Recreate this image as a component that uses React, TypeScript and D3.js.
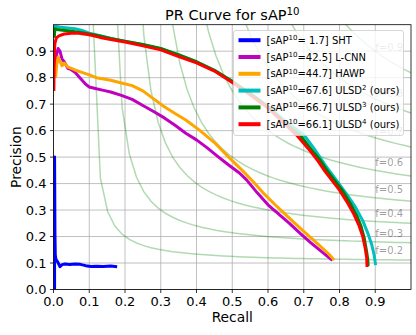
import React from 'react';
import * as d3 from 'd3';

const width = 416;
const height = 335;
const margin = { top: 24.7, right: 5, bottom: 45.5, left: 53.5 };

const ticks = [0, 0.1, 0.2, 0.3, 0.4, 0.5, 0.6, 0.7, 0.8, 0.9];
const fScores = [0.2, 0.3, 0.4, 0.5, 0.6, 0.7, 0.8, 0.9];

// SHT
const shtRecall = [0.003, 0.003, 0.004, 0.005, 0.007, 0.01, 0.014, 0.018, 0.024, 0.032, 0.045, 0.06, 0.075, 0.09, 0.105, 0.12, 0.14, 0.16, 0.178];
const shtPrecision = [0.0, 0.5, 0.22, 0.13, 0.112, 0.108, 0.098, 0.086, 0.094, 0.096, 0.094, 0.096, 0.095, 0.09, 0.087, 0.088, 0.087, 0.089, 0.086];

// L-CNN
const lcnnRecall = [0.006, 0.009, 0.013, 0.018, 0.024, 0.03, 0.04, 0.05, 0.06, 0.07, 0.08, 0.09, 0.1, 0.12, 0.14, 0.16, 0.19, 0.22, 0.25, 0.28, 0.31, 0.34, 0.37, 0.4, 0.43, 0.46, 0.49, 0.52, 0.54, 0.57, 0.6, 0.63, 0.66, 0.69, 0.72, 0.75, 0.78];
const lcnnPrecision = [0.84, 0.89, 0.91, 0.9, 0.87, 0.86, 0.835, 0.83, 0.82, 0.805, 0.79, 0.775, 0.765, 0.758, 0.752, 0.746, 0.733, 0.718, 0.695, 0.672, 0.648, 0.62, 0.59, 0.565, 0.535, 0.502, 0.47, 0.44, 0.414, 0.365, 0.32, 0.285, 0.25, 0.212, 0.176, 0.143, 0.11];

// HAWP
const hawpRecall = [0.006, 0.009, 0.013, 0.018, 0.024, 0.03, 0.04, 0.05, 0.06, 0.075, 0.09, 0.105, 0.12, 0.14, 0.16, 0.19, 0.22, 0.25, 0.28, 0.31, 0.34, 0.37, 0.41, 0.45, 0.49, 0.53, 0.56, 0.59, 0.62, 0.65, 0.68, 0.71, 0.74, 0.77, 0.785];
const hawpPrecision = [0.8, 0.85, 0.878, 0.862, 0.845, 0.855, 0.84, 0.835, 0.829, 0.822, 0.815, 0.808, 0.8, 0.795, 0.79, 0.78, 0.77, 0.75, 0.72, 0.69, 0.665, 0.64, 0.6, 0.555, 0.5, 0.447, 0.405, 0.36, 0.32, 0.282, 0.244, 0.207, 0.171, 0.134, 0.111];

// ULSD^2
const ulsd2Recall = [0.002, 0.005, 0.01, 0.02, 0.04, 0.06, 0.08, 0.1, 0.13, 0.16, 0.2, 0.25, 0.3, 0.35, 0.4, 0.45, 0.5, 0.55, 0.6, 0.65, 0.7, 0.73, 0.76, 0.79, 0.82, 0.845, 0.865, 0.88, 0.89, 0.897, 0.901];
const ulsd2Precision = [0.96, 0.995, 0.993, 0.99, 0.988, 0.985, 0.978, 0.968, 0.958, 0.948, 0.937, 0.924, 0.909, 0.887, 0.86, 0.828, 0.785, 0.74, 0.69, 0.635, 0.585, 0.53, 0.47, 0.415, 0.36, 0.31, 0.26, 0.21, 0.17, 0.13, 0.092];

// ULSD^3
const ulsd3Recall = [0.002, 0.004, 0.01, 0.02, 0.04, 0.07, 0.1, 0.13, 0.16, 0.2, 0.25, 0.3, 0.35, 0.4, 0.45, 0.5, 0.55, 0.6, 0.65, 0.69, 0.72, 0.745, 0.77, 0.79, 0.81, 0.83, 0.848, 0.86, 0.869, 0.875, 0.879, 0.88];
const ulsd3Precision = [0.95, 0.985, 0.982, 0.98, 0.977, 0.972, 0.965, 0.957, 0.948, 0.938, 0.925, 0.91, 0.886, 0.86, 0.828, 0.786, 0.74, 0.69, 0.625, 0.583, 0.53, 0.49, 0.44, 0.405, 0.37, 0.325, 0.28, 0.24, 0.195, 0.15, 0.115, 0.088];

// ULSD^4
const ulsd4Recall = [0.001, 0.002, 0.004, 0.008, 0.015, 0.03, 0.05, 0.07, 0.1, 0.13, 0.16, 0.2, 0.25, 0.3, 0.35, 0.4, 0.45, 0.5, 0.55, 0.6, 0.65, 0.68, 0.72, 0.74, 0.76, 0.78, 0.8, 0.82, 0.84, 0.855, 0.865, 0.872, 0.876, 0.877];
const ulsd4Precision = [0.75, 0.88, 0.93, 0.95, 0.958, 0.965, 0.968, 0.968, 0.962, 0.952, 0.944, 0.935, 0.92, 0.905, 0.88, 0.856, 0.825, 0.782, 0.735, 0.685, 0.622, 0.583, 0.52, 0.485, 0.445, 0.41, 0.375, 0.333, 0.285, 0.24, 0.2, 0.155, 0.12, 0.085];

const sapScores = [' 1.7', '42.5', '44.7', '67.6', '66.7', '66.1'];
const methodNames = ['SHT', 'L-CNN', 'HAWP', 'ULSD', 'ULSD', 'ULSD'];
const methodSups = ['', '', '', '2', '3', '4'];
const colors = ['#0000ff', '#bf00bf', '#ffa500', '#00bfbf', '#008000', '#ff0000'];

const series = [
  { r: shtRecall, p: shtPrecision },
  { r: lcnnRecall, p: lcnnPrecision },
  { r: hawpRecall, p: hawpPrecision },
  { r: ulsd2Recall, p: ulsd2Precision },
  { r: ulsd3Recall, p: ulsd3Precision },
  { r: ulsd4Recall, p: ulsd4Precision },
];

const font = 'DejaVu Sans, sans-serif';

const App = () => {
  const x = d3.scaleLinear().domain([0, 1]).range([margin.left, width - margin.right]);
  const y = d3.scaleLinear().domain([0, 1]).range([height - margin.bottom, margin.top]);

  const line = d3.line<[number, number]>()
    .x((d) => x(d[0]))
    .y((d) => y(d[1]));

  // iso-F reference curves
  const xs = d3.range(50).map((i) => 0.01 + (i * 0.99) / 49);
  const isoCurves = fScores.map((f) => {
    const pts = xs.map((v) => [v, (f * v) / (2 * v - f)] as [number, number]).filter((d) => d[1] >= 0);
    return { f, pts, labelY: pts.length ? (f * xs[45]) / (2 * xs[45] - f) + 0.02 : 0 };
  });

  const legendX = 233.5;
  const legendY = 30.5;
  const rowH = 16.8;

  return (
    <svg width={width} height={height} style={{ position: 'absolute', left: 0, top: 0 }} fontFamily={font}>
      <defs>
        <clipPath id="plot">
          <rect x={x(0)} y={y(1)} width={x(1) - x(0)} height={y(0) - y(1)} />
        </clipPath>
      </defs>
      <rect width={width} height={height} fill="#fff" />

      {/* grid */}
      {ticks.map((t) => (
        <g key={'g' + t}>
          <line x1={x(t)} x2={x(t)} y1={y(0)} y2={y(1)} stroke="#b0b0b0" strokeWidth={0.8} />
          <line x1={x(0)} x2={x(1)} y1={y(t)} y2={y(t)} stroke="#b0b0b0" strokeWidth={0.8} />
        </g>
      ))}

      <g clipPath="url(#plot)">
        {isoCurves.map((c) => (
          <path key={'f' + c.f} d={line(c.pts) || ''} fill="none" stroke="green" strokeOpacity={0.3} strokeWidth={1.5} />
        ))}
        {isoCurves.map((c) => (
          <text key={'fl' + c.f} x={x(0.9)} y={y(c.labelY)} fontSize={10} fill="#000" fillOpacity={0.4}>
            {'f=' + c.f.toFixed(1)}
          </text>
        ))}
        {series.map((s, i) => (
          <path
            key={'s' + i}
            d={line(s.r.map((v, j) => [v, s.p[j]] as [number, number])) || ''}
            fill="none"
            stroke={colors[i]}
            strokeWidth={3}
            strokeLinejoin="round"
          />
        ))}
      </g>

      {/* spines */}
      <rect x={x(0)} y={y(1)} width={x(1) - x(0)} height={y(0) - y(1)} fill="none" stroke="#000" strokeWidth={0.8} />

      {/* ticks */}
      {ticks.map((t) => (
        <g key={'t' + t}>
          <line x1={x(t)} x2={x(t)} y1={y(0)} y2={y(0) + 3.5} stroke="#000" strokeWidth={0.8} />
          <text x={x(t)} y={y(0) + 16.5} fontSize={13} textAnchor="middle">{t.toFixed(1)}</text>
          <line x1={x(0) - 3.5} x2={x(0)} y1={y(t)} y2={y(t)} stroke="#000" strokeWidth={0.8} />
          <text x={x(0) - 7} y={y(t) + 4.7} fontSize={13} textAnchor="end">{t.toFixed(1)}</text>
        </g>
      ))}

      {/* labels */}
      <text x={(x(0) + x(1)) / 2} y={322} fontSize={13.8} textAnchor="middle">Recall</text>
      <text transform={`translate(21,${(y(0) + y(1)) / 2}) rotate(-90)`} fontSize={13.8} textAnchor="middle">Precision</text>
      <text x={(x(0) + x(1)) / 2} y={20} fontSize={14.5} textAnchor="middle">
        PR Curve for sAP<tspan fontSize={10.2} dy={-5.5}>10</tspan>
      </text>

      {/* legend */}
      <rect x={legendX} y={legendY} width={170} height={105} rx={2.5} fill="#fff" fillOpacity={0.8} stroke="#cccccc" strokeWidth={0.8} />
      {sapScores.map((s, i) => {
        const ly = legendY + 9.7 + i * rowH;
        return (
          <g key={'l' + i}>
            <line x1={legendX + 5} x2={legendX + 27} y1={ly} y2={ly} stroke={colors[i]} strokeWidth={4} />
            <text x={legendX + 33} y={ly + 3.6} fontSize={10} style={{ whiteSpace: 'pre' }}>
              [sAP<tspan fontSize={7} dy={-3.8}>10</tspan>
              <tspan dy={3.8}>{'=' + s + '] ' + methodNames[i]}</tspan>
              {methodSups[i] ? (
                <>
                  <tspan fontSize={7} dy={-3.8}>{methodSups[i]}</tspan>
                  <tspan dy={3.8}>{' (ours)'}</tspan>
                </>
              ) : null}
            </text>
          </g>
        );
      })}
    </svg>
  );
};

export default App;
